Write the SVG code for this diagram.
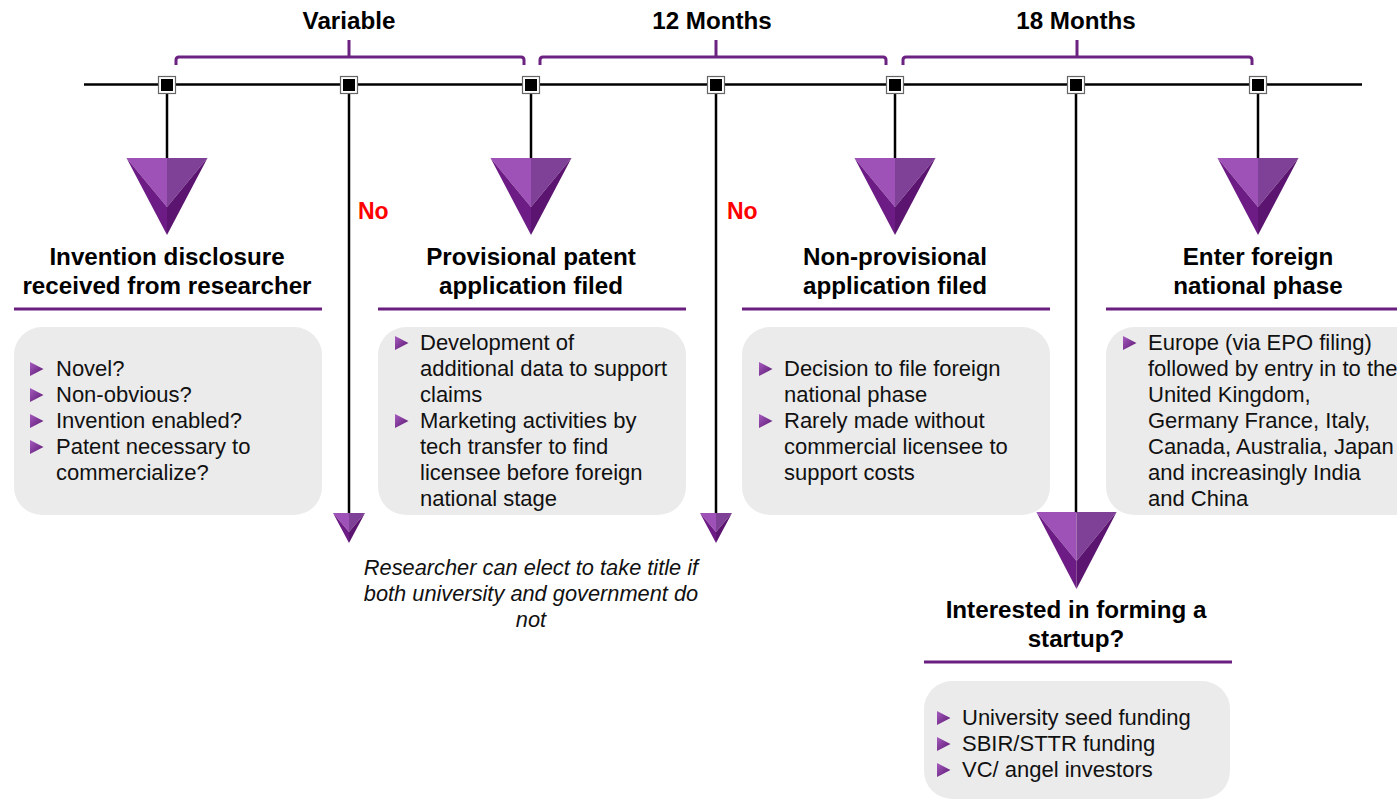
<svg xmlns="http://www.w3.org/2000/svg" xmlns:xlink="http://www.w3.org/1999/xlink" width="1397" height="801" viewBox="0 0 1397 801">
<defs>
<style>
.h{font-family:"Liberation Sans",Arial,sans-serif;font-weight:bold;font-size:24.2px;fill:#000;text-anchor:middle}
.b{font-family:"Liberation Sans",Arial,sans-serif;font-size:22px;fill:#111}
.it{font-family:"Liberation Sans",Arial,sans-serif;font-style:italic;font-size:21.8px;fill:#111;text-anchor:middle}
.no{font-family:"Liberation Sans",Arial,sans-serif;font-weight:bold;font-size:23px;fill:#f00}
.box{fill:#ebebeb}
.ul{stroke:#6a1f80;stroke-width:3;fill:none}
.br{stroke:#6b2281;stroke-width:3;fill:none}
.stem{stroke:#000;stroke-width:2.5;fill:none}
</style>
<linearGradient id="bg" x1="0" y1="0" x2="1" y2="1">
<stop offset="0" stop-color="#a65cbf"/>
<stop offset="1" stop-color="#5a1570"/>
</linearGradient>
<g id="tri">
<polygon points="-40.5,0 0,0 0,49" fill="#9e51b6"/>
<polygon points="0,0 40.5,0 0,49" fill="#7f4097"/>
<polygon points="-40.5,0 0,49 0,77" fill="#6d1c85"/>
<polygon points="40.5,0 0,49 0,77" fill="#5b146f"/>
</g>
<g id="mk">
<rect x="-8.5" y="-8.5" width="17" height="17" fill="#fff" stroke="#666" stroke-width="1.2"/>
<rect x="-6" y="-6" width="12" height="12" fill="#000"/>
</g>
<polygon id="bl" points="0,0 13.5,7 0,14" fill="url(#bg)"/>
</defs>
<rect width="1397" height="801" fill="#fff"/>

<g id="connectors">
<line x1="84" y1="84.5" x2="1362" y2="84.5" stroke="#000" stroke-width="2.5"/>
<line class="stem" x1="167" y1="85" x2="167" y2="159"/>
<line class="stem" x1="349" y1="85" x2="349" y2="514"/>
<line class="stem" x1="531" y1="85" x2="531" y2="159"/>
<line class="stem" x1="716" y1="85" x2="716" y2="514"/>
<line class="stem" x1="895" y1="85" x2="895" y2="159"/>
<line class="stem" x1="1076" y1="85" x2="1076" y2="513"/>
<line class="stem" x1="1258" y1="85" x2="1258" y2="159"/>
<use href="#tri" transform="translate(349,513) scale(0.395,0.39)"/>
<use href="#tri" transform="translate(716,513) scale(0.395,0.39)"/>
<use href="#mk" x="167" y="85"/>
<use href="#mk" x="349" y="85"/>
<use href="#mk" x="531" y="85"/>
<use href="#mk" x="716" y="85"/>
<use href="#mk" x="895" y="85"/>
<use href="#mk" x="1076" y="85"/>
<use href="#mk" x="1258" y="85"/>
<text class="no" x="358" y="219">No</text>
<text class="no" x="727" y="219">No</text>
<text class="it" x="531" y="575">Researcher can elect to take title if</text>
<text class="it" x="531" y="601">both university and government do</text>
<text class="it" x="531" y="627">not</text>
</g>

<g id="brackets">
<path class="br" d="M176,65 V60 Q176,57 179,57 H521 Q524,57 524,60 V65 M349,57 V40"/>
<path class="br" d="M540,65 V60 Q540,57 543,57 H883 Q886,57 886,60 V65 M716,57 V40"/>
<path class="br" d="M903,65 V60 Q903,57 906,57 H1249 Q1252,57 1252,60 V65 M1077,57 V40"/>
<text class="h" x="349" y="29">Variable</text>
<text class="h" x="712" y="29">12 Months</text>
<text class="h" x="1076" y="29">18 Months</text>
</g>

<g id="node1">
<use href="#tri" x="167" y="158"/>
<text class="h" x="167" y="265">Invention disclosure</text>
<text class="h" x="167" y="294">received from researcher</text>
<line class="ul" x1="14" y1="309" x2="322" y2="309"/>
<rect class="box" x="14" y="327" width="308" height="188" rx="28"/>
<use href="#bl" x="30" y="362"/><text class="b" x="56" y="376">Novel?</text>
<use href="#bl" x="30" y="388"/><text class="b" x="56" y="402">Non-obvious?</text>
<use href="#bl" x="30" y="414"/><text class="b" x="56" y="428">Invention enabled?</text>
<use href="#bl" x="30" y="440"/><text class="b" x="56" y="454">Patent necessary to</text>
<text class="b" x="56" y="480">commercialize?</text>
</g>

<g id="node2">
<use href="#tri" x="531" y="158"/>
<text class="h" x="531" y="265">Provisional patent</text>
<text class="h" x="531" y="294">application filed</text>
<line class="ul" x1="378" y1="309" x2="686" y2="309"/>
<rect class="box" x="378" y="327" width="308" height="188" rx="28"/>
<use href="#bl" x="395" y="336"/><text class="b" x="420" y="350">Development of</text>
<text class="b" x="420" y="376">additional data to support</text>
<text class="b" x="420" y="402">claims</text>
<use href="#bl" x="395" y="414"/><text class="b" x="420" y="428">Marketing activities by</text>
<text class="b" x="420" y="454">tech transfer to find</text>
<text class="b" x="420" y="480">licensee before foreign</text>
<text class="b" x="420" y="506">national stage</text>
</g>

<g id="node3">
<use href="#tri" x="895" y="158"/>
<text class="h" x="895" y="265">Non-provisional</text>
<text class="h" x="895" y="294">application filed</text>
<line class="ul" x1="742" y1="309" x2="1050" y2="309"/>
<rect class="box" x="742" y="327" width="308" height="188" rx="28"/>
<use href="#bl" x="759" y="362"/><text class="b" x="784" y="376">Decision to file foreign</text>
<text class="b" x="784" y="402">national phase</text>
<use href="#bl" x="759" y="414"/><text class="b" x="784" y="428">Rarely made without</text>
<text class="b" x="784" y="454">commercial licensee to</text>
<text class="b" x="784" y="480">support costs</text>
</g>

<g id="node4">
<use href="#tri" x="1258" y="158"/>
<text class="h" x="1258" y="265">Enter foreign</text>
<text class="h" x="1258" y="294">national phase</text>
<line class="ul" x1="1106" y1="309" x2="1397" y2="309"/>
<rect class="box" x="1106" y="327" width="320" height="188" rx="28"/>
<use href="#bl" x="1123" y="336"/><text class="b" x="1148" y="350">Europe (via EPO filing)</text>
<text class="b" x="1148" y="376">followed by entry in to the</text>
<text class="b" x="1148" y="402">United Kingdom,</text>
<text class="b" x="1148" y="428">Germany France, Italy,</text>
<text class="b" x="1148" y="454">Canada, Australia, Japan</text>
<text class="b" x="1148" y="480">and increasingly India</text>
<text class="b" x="1148" y="506">and China</text>
</g>

<g id="node5">
<use href="#tri" transform="translate(1076.5,512) scale(0.99,1)"/>
<text class="h" x="1076" y="618">Interested in forming a</text>
<text class="h" x="1076" y="647">startup?</text>
<line class="ul" x1="924" y1="662" x2="1232" y2="662"/>
<rect class="box" x="924" y="681" width="306" height="118" rx="28"/>
<use href="#bl" x="937" y="711"/><text class="b" x="962" y="725">University seed funding</text>
<use href="#bl" x="937" y="737"/><text class="b" x="962" y="751">SBIR/STTR funding</text>
<use href="#bl" x="937" y="763"/><text class="b" x="962" y="777">VC/ angel investors</text>
</g>
</svg>
